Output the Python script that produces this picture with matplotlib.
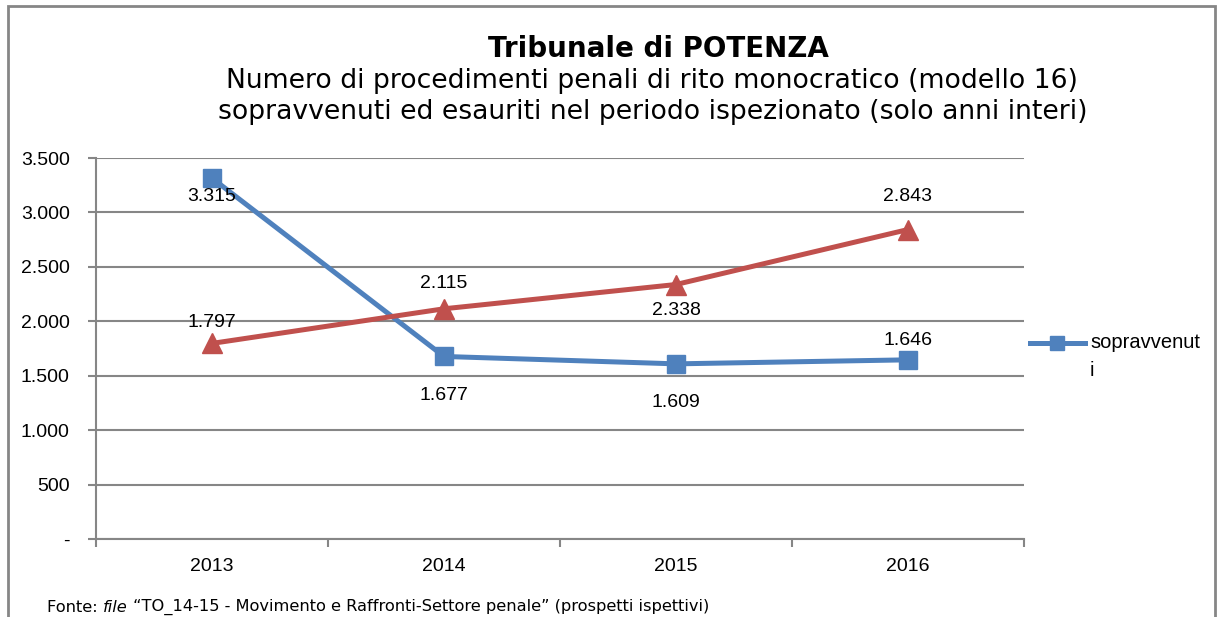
import matplotlib.pyplot as plt
from matplotlib.lines import Line2D
from matplotlib.patches import Rectangle

# data
anni = ["2013", "2014", "2015", "2016"]
sopravvenuti = [3315, 1677, 1609, 1646]
esauriti = [1797, 2115, 2338, 2843]

# label offsets in points (dy), as placed in the original
off_sopr = [-13, -28, -28, 14]
off_esau = [15, 18, -19, 24]

blue = "#4F81BD"
red = "#C0504D"
grid_col = "#868686"


def fmt(v):
    return f"{v:,}".replace(",", ".")


fig = plt.figure(figsize=(12.17, 6.17), dpi=100)
ax = fig.add_axes([0.0789, 0.1264, 0.7625, 0.6175])

x = range(len(anni))
ax.plot(x, sopravvenuti, color=blue, lw=3.6, marker="s", ms=13, zorder=3)
ax.plot(x, esauriti, color=red, lw=3.6, marker="^", ms=15, zorder=3)

for i, v in enumerate(sopravvenuti):
    ax.annotate(fmt(v), (i, v), xytext=(0, off_sopr[i]), textcoords="offset points",
                ha="center", va="center", fontsize=14, family="Liberation Sans", zorder=4)
for i, v in enumerate(esauriti):
    ax.annotate(fmt(v), (i, v), xytext=(0, off_esau[i]), textcoords="offset points",
                ha="center", va="center", fontsize=14, family="Liberation Sans", zorder=4)

ax.set_xlim(-0.5, len(anni) - 0.5)
ax.set_ylim(0, 3500)
yt = list(range(0, 3501, 500))
ax.set_yticks(yt)
ax.set_yticklabels(["-"] + [fmt(v) for v in yt[1:]])
ax.set_xticks(list(x))
ax.set_xticklabels(anni)
ax.set_xticks([i - 0.5 for i in range(len(anni) + 1)], minor=True)
ax.tick_params(axis="x", which="major", length=0, pad=14)
ax.tick_params(axis="x", which="minor", length=6, width=1.5, color=grid_col)
ax.tick_params(axis="y", length=6, width=1.5, color=grid_col, pad=13)
for lab in ax.get_xticklabels() + ax.get_yticklabels():
    lab.set_family("Liberation Sans")
    lab.set_fontsize(14)

ax.grid(axis="y", color=grid_col, lw=1.5)
ax.set_axisbelow(True)
for s in ["top", "right"]:
    ax.spines[s].set_visible(False)
ax.spines["left"].set_color(grid_col)
ax.spines["left"].set_linewidth(1.5)
ax.spines["bottom"].set_color(grid_col)
ax.spines["bottom"].set_linewidth(1.5)

# titles
fig.text(0.541, 1 - 57 / 617, "Tribunale di POTENZA", ha="center", va="baseline",
         fontsize=20, fontweight="bold", family="DejaVu Sans")
fig.text(0.536, 1 - 88 / 617, "Numero di procedimenti penali di rito monocratico (modello 16)",
         ha="center", va="baseline", fontsize=19.2, family="DejaVu Sans")
fig.text(0.536, 1 - 119 / 617, "sopravvenuti ed esauriti nel periodo ispezionato (solo anni interi)",
         ha="center", va="baseline", fontsize=19.2, family="DejaVu Sans")

# legend (only first series visible, label wrapped)
ly = 1 - 343 / 617
fig.add_artist(Line2D([1030 / 1217, 1057 / 1217, 1085 / 1217], [ly] * 3, color=blue, lw=3.6,
                      marker="s", ms=10, markevery=[1], transform=fig.transFigure))
fig.text(1090 / 1217, ly, "sopravvenut", ha="left", va="center",
         fontsize=14.5, family="Liberation Sans")
fig.text(1090 / 1217, 1 - 370 / 617, "i", ha="left", va="center",
         fontsize=14.5, family="Liberation Sans")

# footnote with italic word
fig.canvas.draw()
r = fig.canvas.get_renderer()
fy = 1 - 607 / 617
fs = 11.7
t1 = fig.text(47 / 1217, fy, "Fonte: ", va="center", fontsize=fs, family="DejaVu Sans")
bb = t1.get_window_extent(r)
t2 = fig.text(bb.x1 / 1217, fy, "file", va="center", fontsize=fs, family="DejaVu Sans",
              style="italic")
bb = t2.get_window_extent(r)
fig.text(bb.x1 / 1217, fy, " \u201cTO_14-15 - Movimento e Raffronti-Settore penale\u201d (prospetti ispettivi)",
         va="center", fontsize=fs, family="DejaVu Sans")

# outer chart frame
fig.add_artist(Rectangle((8 / 1217, -0.2), 1207 / 1217, 1.2 - 6 / 617, fill=False,
                         ec=grid_col, lw=2, transform=fig.transFigure))

fig.savefig("out.png", dpi=100)
